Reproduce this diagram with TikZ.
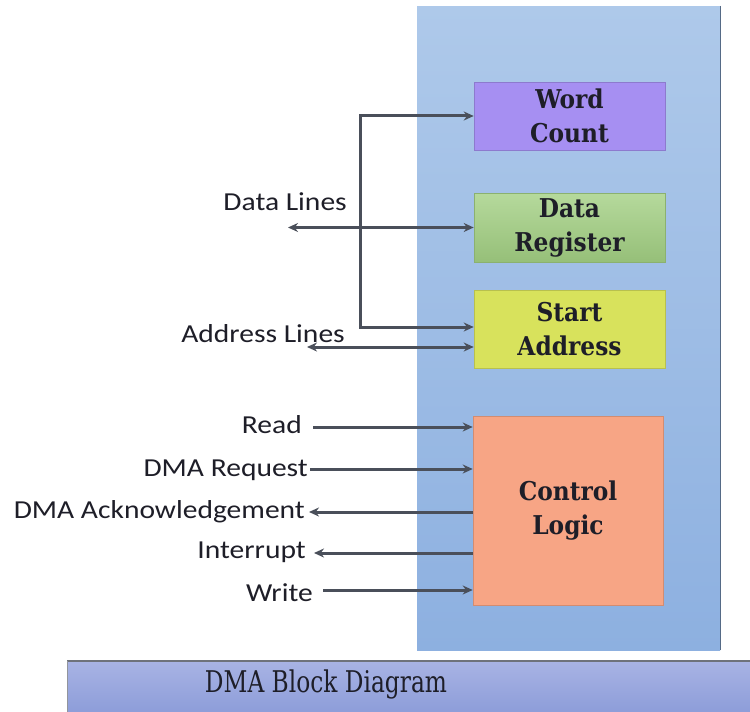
\documentclass[tikz,border=0pt]{standalone}
\usepackage{fontspec}
\setmainfont{DejaVu Serif}
\newfontfamily\boxfont[FakeStretch=0.9]{DejaVu Serif}
\newfontfamily\labfont[FakeStretch=1.14]{Carlito}
\newfontfamily\titlefont[FakeStretch=0.78]{DejaVu Serif}
\usetikzlibrary{arrows.meta}
\definecolor{panelTop}{HTML}{AEC9EA}
\definecolor{panelBot}{HTML}{8DB0E0}
\definecolor{wcFill}{HTML}{A68FF2}
\definecolor{drFill}{HTML}{A3D083}
\definecolor{saFill}{HTML}{D8E25C}
\definecolor{clFill}{HTML}{F7A585}
\definecolor{barTop}{HTML}{A8B3E4}
\definecolor{barBot}{HTML}{8D9DD9}
\definecolor{lineCol}{HTML}{4A4F5A}
\definecolor{txtCol}{HTML}{1E1E28}
\tikzset{
  blockbox/.style={rectangle, minimum width=191bp, inner sep=0pt, align=center,
    font=\boxfont\bfseries\fontsize{26}{34}\selectfont, text=txtCol},
  lab/.style={anchor=base east, inner sep=0pt, font=\labfont\fontsize{26}{30}\selectfont, text=txtCol},
  conn/.style={draw=lineCol, line width=3bp},
  tipR/.style={-{Stealth[length=10bp,width=9bp]}},
  tipL/.style={{Stealth[length=10bp,width=9bp]}-},
  tipLR/.style={{Stealth[length=10bp,width=9bp]}-{Stealth[length=10bp,width=9bp]}}
}
\begin{document}
\begin{tikzpicture}[x=1bp,y=-1bp]
\useasboundingbox (0,0) rectangle (750,712);
\fill[white] (0,0) rectangle (750,712);
% panel
\node[rectangle, inner sep=0pt, minimum width=303bp, minimum height=644bp,
  top color=panelTop, bottom color=panelBot, anchor=north west] (panel) at (417,6) {};
\draw[panelBot!60!black, line width=1.2bp] (panel.north east) -- (panel.south east);
% blocks
\node[blockbox, minimum height=68bp, fill=wcFill, draw=wcFill!85!black, line width=0.6bp] (wc) at (569.5,116) {Word\\Count};
\node[blockbox, minimum height=69bp, top color=drFill!80!white, bottom color=drFill!92!black, draw=drFill!85!black, line width=0.6bp] (dr) at (569.5,227.5) {Data\\Register};
\node[blockbox, minimum height=78bp, fill=saFill, draw=saFill!85!black, line width=0.6bp] (sa) at (569.5,329) {Start\\Address};
\node[blockbox, minimum width=190bp, minimum height=189bp, fill=clFill, draw=clFill!85!black, line width=0.6bp] (cl) at (568,510.5) {Control\\Logic};
% bus
\coordinate (bt) at (360,116);
\coordinate (bb) at (360,327);
\draw[conn, tipLR] (wc.west) -- (bt) -- (bb) -- (sa.west |- bb);
% data lines
\coordinate (dl) at (288,227.5);
\draw[conn, tipLR] (dl) -- (dr.west);
\node[lab] (dlLab) at (347,210) {Data Lines};
% address lines
\coordinate (al) at (307,347);
\draw[conn, tipLR] (al) -- (sa.west |- al);
\node[lab] (alLab) at (345,342) {Address Lines};
% control signals
\coordinate (rd) at (313,427);
\coordinate (rq) at (310,469);
\coordinate (ak) at (309,512);
\coordinate (it) at (314,553);
\coordinate (wr) at (323,590);
\draw[conn, tipR] (rd) -- (cl.west |- rd);
\draw[conn, tipR] (rq) -- (cl.west |- rq);
\draw[conn, tipL] (ak) -- (cl.west |- ak);
\draw[conn, tipL] (it) -- (cl.west |- it);
\draw[conn, tipR] (wr) -- (cl.west |- wr);
\node[lab] (rdLab) at (302,433) {Read};
\node[lab] (rqLab) at (308,476) {DMA Request};
\node[lab] (akLab) at (305,518) {DMA Acknowledgement};
\node[lab] (itLab) at (306,558) {Interrupt};
\node[lab] (wrLab) at (313,601) {Write};
% title bar
\node[rectangle, inner sep=0pt, minimum width=683bp, minimum height=51bp,
  top color=barTop, bottom color=barBot, anchor=north west] (bar) at (67,661) {};
\draw[lineCol!80, line width=1.5bp] (bar.north west) -- (bar.north east);
\draw[lineCol!60, line width=1bp] (bar.north west) -- (bar.south west);
\node[anchor=base, inner sep=0pt, font=\titlefont\fontsize{30}{32}\selectfont, text=txtCol] (title) at (326,692) {DMA Block Diagram};
\end{tikzpicture}
\end{document}
